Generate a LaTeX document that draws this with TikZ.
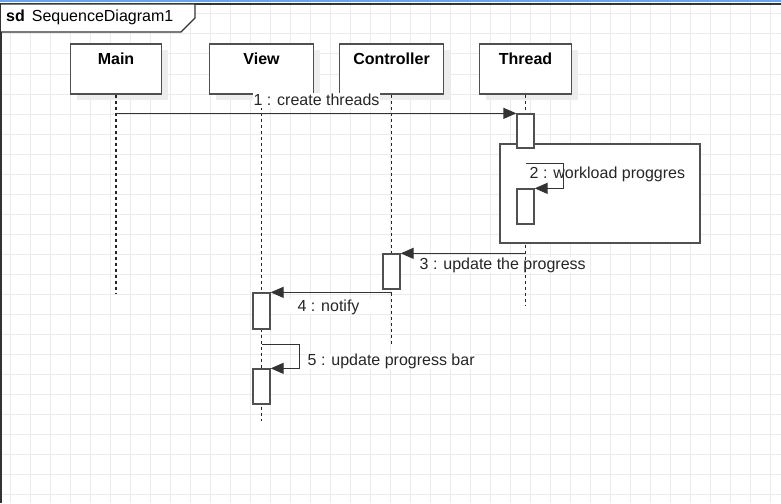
\documentclass[tikz,border=0pt]{standalone}
\usepackage{fontspec}
\setmainfont{Liberation Sans}
\usetikzlibrary{arrows.meta,calc}

\definecolor{gridgray}{HTML}{EBEBEB}
\definecolor{edgegray}{HTML}{505050}
\definecolor{topblue}{HTML}{6FA3E8}

\begin{document}
\begin{tikzpicture}[x=1pt,y=-1pt,font=\fontsize{16}{18}\selectfont]
\tikzset{gridline/.style={gridgray, line width=1pt}}
\tikzset{lifehead/.style={draw=edgegray, fill=white, line width=1.3pt, minimum height=50pt, inner sep=0pt}}
\tikzset{headshadow/.style={fill=black!7, draw=none, minimum height=50pt, inner sep=0pt}}
\tikzset{headtext/.style={font=\fontsize{16}{18}\selectfont\bfseries, inner sep=0pt}}
\tikzset{lifeline/.style={black!85, line width=1.1pt, dash pattern=on 3pt off 3pt}}
\tikzset{actbox/.style={draw=edgegray, fill=white, line width=1.3pt, minimum width=17pt, inner sep=0pt}}
\tikzset{msg/.style={black!80, line width=1.3pt, -{Triangle[length=13pt,width=11pt]}}}
\tikzset{msglabel/.style={fill=white, inner sep=0.5pt, text height=11.5pt, text depth=2.5pt, text=black!85}}
\useasboundingbox (0,0) rectangle (781,503);
\fill[white] (0,0) rectangle (781,503);
\foreach \x in {10,30,...,770} \draw[gridline] (\x,0) -- (\x,503);
\foreach \y in {14,34,...,494} \draw[gridline] (0,\y) -- (781,\y);
\draw[topblue, line width=1.5pt] (0,1.2) -- (781,1.2);
\draw[black!80, line width=1.3pt] (1,503) -- (1,4) -- (781,4);
\draw[black!80, line width=1.3pt, fill=white] (1,4) -- (195,4) -- (195,18) -- (181,32) -- (1,32);
\node[anchor=west, inner sep=0pt] (sdtag) at (6,17.5) {\textbf{sd}\hspace{7pt}SequenceDiagram1};

\node[headshadow, minimum width=91pt] (mainsh) at (122,75) {};
\node[headshadow, minimum width=104pt] (viewsh) at (267.5,75) {};
\node[headshadow, minimum width=104pt] (ctrlsh) at (397.5,75) {};
\node[headshadow, minimum width=92pt] (thrsh) at (531.5,75) {};
\node[lifehead, minimum width=91pt] (main) at (116,69) {};
\node[lifehead, minimum width=104pt] (view) at (261.5,69) {};
\node[lifehead, minimum width=104pt] (ctrl) at (391.5,69) {};
\node[lifehead, minimum width=92pt] (thr) at (525.5,69) {};
\node[headtext] (mainname) at ([yshift=-15pt]main.north) {Main};
\node[headtext] (viewname) at ([yshift=-15pt]view.north) {View};
\node[headtext] (ctrlname) at ([yshift=-15pt]ctrl.north) {Controller};
\node[headtext] (thrname) at ([yshift=-15pt]thr.north) {Thread};

\node[msglabel, anchor=west] (lbl3) at (419,265) {3 : update the progress};

\coordinate (mainend) at (116,293);
\coordinate (viewend) at (261.5,421);
\coordinate (ctrlend) at (391.5,346);
\coordinate (thrend) at (525.5,306);
\draw[lifeline] (main) -- (mainend);
\draw[lifeline] (view) -- (viewend);
\draw[lifeline] (ctrl) -- (ctrlend);
\draw[lifeline] (thr) -- (thrend);

\draw[edgegray, line width=1.3pt, fill=white] (500,144) rectangle (700,243);

\node[actbox, minimum height=34pt] (thr1) at (525.5,131) {};
\node[actbox, minimum height=35pt] (thr2) at (525.5,206.5) {};
\node[actbox, minimum height=35pt] (ctl1) at (391.5,271.5) {};
\node[actbox, minimum height=36pt] (view1) at (261.5,311) {};
\node[actbox, minimum height=35pt] (view2) at (261.5,386.5) {};

\node[msglabel] (lbl1) at (316.5,100.5) {1 : create threads};
\node[msglabel, anchor=west] (lbl2) at (529,174) {2 : workload proggres};
\node[msglabel, minimum width=97pt] (lbl4) at (328.5,306.5) {4 : notify};
\node[msglabel, anchor=west] (lbl5) at (307,361) {5 : update progress bar};

\draw[msg] (main.south |- thr1.north west) -- (thr1.north west);
\draw[msg] ([yshift=-15pt]thr1.south) -- ++(38,0) |- (thr2.north east);
\draw[msg] (thr2.south |- ctl1.north east) -- (ctl1.north east);
\draw[msg] (ctl1.south |- view1.north east) -- (view1.north east);
\draw[msg] ([yshift=-15pt]view1.south) -- ++(38,0) |- (view2.north east);
\end{tikzpicture}
\end{document}
